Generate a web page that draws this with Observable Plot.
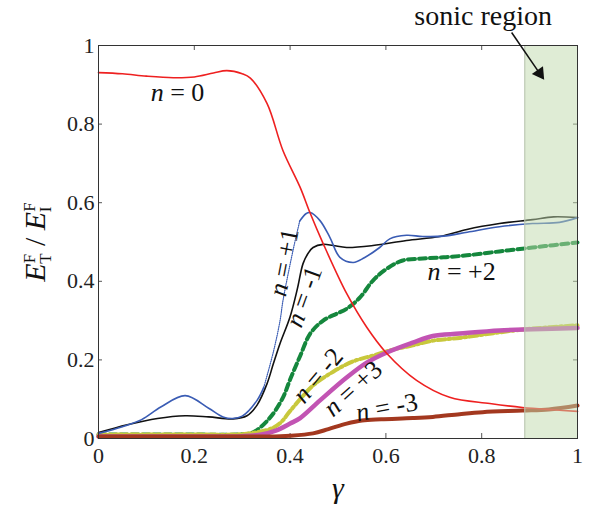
<!DOCTYPE html>
<html><head><meta charset="utf-8">
<script src="https://cdn.jsdelivr.net/npm/d3@7"></script>
<script src="https://cdn.jsdelivr.net/npm/@observablehq/plot@0.6"></script>
<style>body{margin:0;background:#fff;} svg text{font-family:"Liberation Serif","Times New Roman",serif !important;}</style>
</head><body><div id="chart"></div>
<script>
// ---- ticks ----
const xTicks = [0, 0.2, 0.4, 0.6, 0.8, 1];
const xTickLabels = ["0", "0.2", "0.4", "0.6", "0.8", "1"];
const yTicks = [0, 0.2, 0.4, 0.6, 0.8, 1];
const yTickLabels = ["0", "0.2", "0.4", "0.6", "0.8", "1"];

// ---- series (gamma, E_T/E_I) ----
const n0X = [0, 0.05, 0.1, 0.156, 0.2, 0.24, 0.268, 0.3, 0.317, 0.352, 0.385, 0.421, 0.442, 0.469, 0.518, 0.56, 0.6, 0.664, 0.733, 0.817, 0.885, 0.95, 1];
const n0Y = [0.931, 0.928, 0.922, 0.918, 0.92, 0.93, 0.936, 0.928, 0.917, 0.852, 0.733, 0.639, 0.573, 0.496, 0.369, 0.283, 0.219, 0.148, 0.105, 0.089, 0.079, 0.073, 0.069];

const np1X = [0, 0.05, 0.09, 0.13, 0.181, 0.23, 0.26, 0.28, 0.3, 0.331, 0.345, 0.365, 0.379, 0.385, 0.406, 0.42, 0.433, 0.442, 0.462, 0.483, 0.504, 0.532, 0.555, 0.587, 0.608, 0.643, 0.677, 0.72, 0.77, 0.837, 0.906, 0.9625, 1];
const np1Y = [0.013, 0.03, 0.048, 0.08, 0.109, 0.077, 0.055, 0.051, 0.057, 0.097, 0.13, 0.22, 0.3, 0.35, 0.478, 0.553, 0.572, 0.575, 0.555, 0.512, 0.461, 0.448, 0.46, 0.486, 0.508, 0.517, 0.514, 0.515, 0.525, 0.539, 0.547, 0.55, 0.562];
const dottedFrom = 0.345, dottedTo = 0.42;

const nm1X = [0, 0.06, 0.123, 0.181, 0.23, 0.281, 0.31, 0.331, 0.352, 0.365, 0.379, 0.4, 0.415, 0.427, 0.438, 0.448, 0.469, 0.49, 0.518, 0.573, 0.643, 0.7125, 0.769, 0.837, 0.906, 0.95, 1];
const nm1Y = [0.015, 0.035, 0.051, 0.058, 0.055, 0.05, 0.058, 0.085, 0.14, 0.19, 0.242, 0.31, 0.38, 0.445, 0.472, 0.486, 0.494, 0.491, 0.486, 0.491, 0.504, 0.514, 0.532, 0.547, 0.557, 0.564, 0.562];

const np2X = [0, 0.1, 0.2, 0.3, 0.323, 0.358, 0.385, 0.4, 0.421, 0.442, 0.469, 0.498, 0.518, 0.546, 0.573, 0.602, 0.635, 0.677, 0.72, 0.769, 0.837, 0.906, 0.95, 1];
const np2Y = [0.01, 0.01, 0.01, 0.011, 0.016, 0.053, 0.104, 0.15, 0.21, 0.267, 0.3, 0.318, 0.33, 0.359, 0.402, 0.432, 0.453, 0.458, 0.461, 0.466, 0.476, 0.486, 0.492, 0.499];

const nm2X = [0, 0.1, 0.2, 0.3, 0.33, 0.36, 0.38, 0.4, 0.421, 0.448, 0.49, 0.531, 0.573, 0.608, 0.656, 0.698, 0.754, 0.837, 0.9, 1];
const nm2Y = [0.01, 0.01, 0.01, 0.011, 0.016, 0.025, 0.04, 0.07, 0.1, 0.135, 0.17, 0.196, 0.211, 0.224, 0.237, 0.249, 0.256, 0.27, 0.279, 0.288];

const np3X = [0, 0.1, 0.2, 0.3, 0.34, 0.37, 0.4, 0.421, 0.4625, 0.518, 0.56, 0.602, 0.656, 0.698, 0.754, 0.837, 0.906, 1];
const np3Y = [0.005, 0.005, 0.005, 0.006, 0.01, 0.02, 0.038, 0.052, 0.097, 0.155, 0.193, 0.219, 0.244, 0.261, 0.267, 0.275, 0.278, 0.281];

const nm3X = [0, 0.1, 0.2, 0.3, 0.35, 0.4, 0.448, 0.48, 0.518, 0.55, 0.59, 0.656, 0.698, 0.754, 0.802, 0.885, 0.94, 1];
const nm3Y = [0.005, 0.005, 0.005, 0.005, 0.005, 0.007, 0.013, 0.024, 0.038, 0.046, 0.049, 0.052, 0.055, 0.062, 0.067, 0.071, 0.074, 0.084];

// ---- annotations ----
const sonicStart = 0.89, sonicEnd = 1;
const labelText = ["n = 0", "n = +1", "n = -1", "n = +2", "n = -2", "n = +3", "n = -3"];
const labelX = [0.165, 0.3875, 0.429, 0.758, 0.458, 0.531, 0.602];
const labelY = [0.88, 0.448, 0.361, 0.425, 0.16, 0.127, 0.079];
const labelRotate = [0, -79, -70, 0, -50, -42, -11];
const sonicLabel = "sonic region";
const arrowX1 = 0.8625, arrowY1 = 1.033, arrowX2 = 0.921, arrowY2 = 0.929;
const yLabel = "ET/EI";
const xLabel = "γ";

const serif = "\"Liberation Serif\", \"Times New Roman\", serif";
const pts = (xs, ys) => xs.map((x, i) => ({x, y: ys[i]}));
const ln = (xs, ys, o) => Plot.line(pts(xs, ys), {x: "x", y: "y", curve: "catmull-rom", ...o});

const blue = pts(np1X, np1Y);
const chart = Plot.plot({
  width: 596, height: 506,
  marginLeft: 98, marginRight: 19, marginTop: 45, marginBottom: 68,
  x: {domain: [0, 1]},
  y: {domain: [0, 1]},
  style: {fontFamily: serif, fontSize: "22px", color: "#222", background: "#fff"},
  marks: [
    Plot.axisX({ticks: xTicks, tickFormat: (d, i) => xTickLabels[i], tickSize: 0, tickPadding: 9, fontSize: 22, label: null}),
    Plot.axisY({ticks: yTicks, tickFormat: (d, i) => yTickLabels[i], tickSize: 0, tickPadding: 4, fontSize: 22, label: null}),
    Plot.tickX(xTicks, {x: d => d, insetTop: 388, stroke: "#555"}),
    Plot.tickX(xTicks, {x: d => d, insetBottom: 388, stroke: "#555"}),
    Plot.tickY(yTicks, {y: d => d, insetRight: 475, stroke: "#555"}),
    Plot.tickY(yTicks, {y: d => d, insetLeft: 475, stroke: "#555"}),
    ln(np2X, np2Y, {stroke: "#15873d", strokeWidth: 4, strokeDasharray: "7,4"}),
    ln(nm2X, nm2Y, {stroke: "#c8c83c", strokeWidth: 4, strokeDasharray: "8,3,2,3"}),
    ln(np3X, np3Y, {stroke: "#c254b3", strokeWidth: 4.5}),
    ln(nm3X, nm3Y, {stroke: "#a3381f", strokeWidth: 4}),
    ln(nm1X, nm1Y, {stroke: "#111", strokeWidth: 1.6}),
    Plot.line(blue.filter(d => d.x <= dottedFrom), {x: "x", y: "y", curve: "catmull-rom", stroke: "#3a5cb4", strokeWidth: 1.6}),
    Plot.line(blue.filter(d => d.x >= dottedFrom && d.x <= dottedTo), {x: "x", y: "y", curve: "catmull-rom", stroke: "#3a5cb4", strokeWidth: 1.2, strokeDasharray: "1,1.2"}),
    Plot.line(blue.filter(d => d.x >= dottedTo), {x: "x", y: "y", curve: "catmull-rom", stroke: "#3a5cb4", strokeWidth: 1.6}),
    ln(n0X, n0Y, {stroke: "#ee2020", strokeWidth: 1.6}),
    Plot.rect([0], {x1: sonicStart, x2: sonicEnd, y1: 0, y2: 1, fill: "#bfd9ab", fillOpacity: 0.5}),
    Plot.ruleX([sonicStart], {stroke: "#b8c4b0", strokeWidth: 1}),
    Plot.frame({stroke: "#333", strokeWidth: 1}),
    Plot.text(labelText, {x: (d, i) => labelX[i], y: (d, i) => labelY[i], text: d => d, rotate: (d, i) => labelRotate[i], fontSize: 26, fill: "#111", textAnchor: "middle", lineAnchor: "middle"}),
    Plot.text([sonicLabel], {x: 0.803, frameAnchor: "top", dy: -29, fontSize: 28, fill: "#111", lineAnchor: "middle", textAnchor: "middle"}),
    Plot.link([0], {x1: arrowX1, y1: arrowY1, x2: arrowX2, y2: arrowY2, stroke: "#111", strokeWidth: 1.5}),
    Plot.dot([0], {x: arrowX2, y: arrowY2, symbol: "triangle2", r: 6.5, fill: "#111", rotate: 145}),
    Plot.text([yLabel], {frameAnchor: "left", dx: -63, rotate: -90, fontSize: 30, fill: "#111", textAnchor: "middle", lineAnchor: "middle"}),
    Plot.text([xLabel], {frameAnchor: "bottom", dy: 50, fontSize: 30, fontStyle: "italic", fill: "#111", textAnchor: "middle", lineAnchor: "middle"})
  ]
});
document.getElementById("chart").appendChild(chart);

chart.querySelectorAll("text").forEach(t => {
  const s = t.textContent;
  const m = /^n = (.*)$/.exec(s);
  if (m) t.innerHTML = `<tspan font-style="italic">n</tspan> = ${m[1]}`;
  else if (s === yLabel) {
    t.innerHTML = `<tspan font-style="italic">E</tspan><tspan font-size="17" dy="-10">F</tspan><tspan font-size="17" dx="-10" dy="16">T</tspan><tspan dy="-6"> / </tspan><tspan font-style="italic">E</tspan><tspan font-size="17" dy="-10">F</tspan><tspan font-size="17" dx="-10" dy="16">I</tspan>`;
  }
});
</script>
</body></html>
